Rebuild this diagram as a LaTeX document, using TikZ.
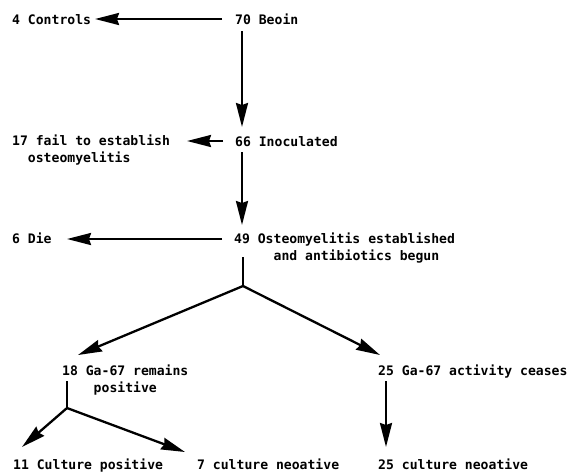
\documentclass[tikz,border=0pt]{standalone}
\usepackage{fontspec}
\setmainfont{DejaVu Sans Mono}
\usetikzlibrary{arrows.meta,calc}
\begin{document}
\begin{tikzpicture}[x=1pt,y=-1pt,
  lbl/.style={anchor=base west,inner sep=0pt,font=\bfseries\fontsize{13.1}{17}\selectfont},
  arr/.style={line width=2.3pt,-{Stealth[length=24pt,width=12pt,inset=2pt]}},
  ln/.style={line width=2.3pt}]
\useasboundingbox (0,0) rectangle (569,475);
\node[lbl] (controls) at (12,24) {4 Controls};
\node[lbl] (begin) at (235,24) {70 Beoin};
\node[lbl] (fail) at (12,145) {\begin{tabular}[t]{@{}l@{}}17 fail to establish\\\phantom{17}osteomyelitis\end{tabular}};
\node[lbl] (inoc) at (235,146) {66 Inoculated};
\node[lbl] (die) at (12,243) {6 Die};
\node[lbl] (est) at (234,243) {\begin{tabular}[t]{@{}l@{}}49 Osteomyelitis established\\\phantom{49 Os}and antibiotics begun\end{tabular}};
\node[lbl] (remains) at (62,375) {\begin{tabular}[t]{@{}l@{}}18 Ga-67 remains\\\phantom{18 G}positive\end{tabular}};
\node[lbl] (ceases) at (378,375) {25 Ga-67 activity ceases};
\node[lbl] (culpos) at (13,469) {11 Culture positive};
\node[lbl] (culneg) at (197,469) {7 culture neoative};
\node[lbl] (neg25) at (378,469) {25 culture neoative};
\coordinate (j1) at (243,286);
\coordinate (j2) at (67,408);
\draw[arr] ($(begin.base west)+(-13,-5)$) -- ($(controls.base west)+(83,-5)$);
\draw[arr] ($(begin.base west)+(7,7)$) -- ($(inoc.base west)+(7,-19)$);
\draw[arr] ($(inoc.base west)+(-12,-5)$) -- ($(fail.base west)+(175,-4)$);
\draw[arr] ($(inoc.base west)+(7,6)$) -- ($(est.base west)+(8,-18)$);
\draw[arr] ($(est.base west)+(-12,-4)$) -- ($(die.base west)+(55,-4)$);
\draw[ln] ($(est.base west)+(9,14)$) -- (j1);
\draw[arr] (j1) -- ($(remains.base west)+(16,-20)$);
\draw[arr] (j1) -- ($(ceases.base west)+(2,-20)$);
\draw[ln] ($(remains.base west)+(5,6)$) -- (j2);
\draw[arr] (j2) -- ($(culpos.base west)+(9,-22)$);
\draw[arr] (j2) -- ($(culneg.base west)+(-12,-17)$);
\draw[arr] ($(ceases.base west)+(8,6)$) -- ($(neg25.base west)+(8,-22)$);
\end{tikzpicture}
\end{document}
